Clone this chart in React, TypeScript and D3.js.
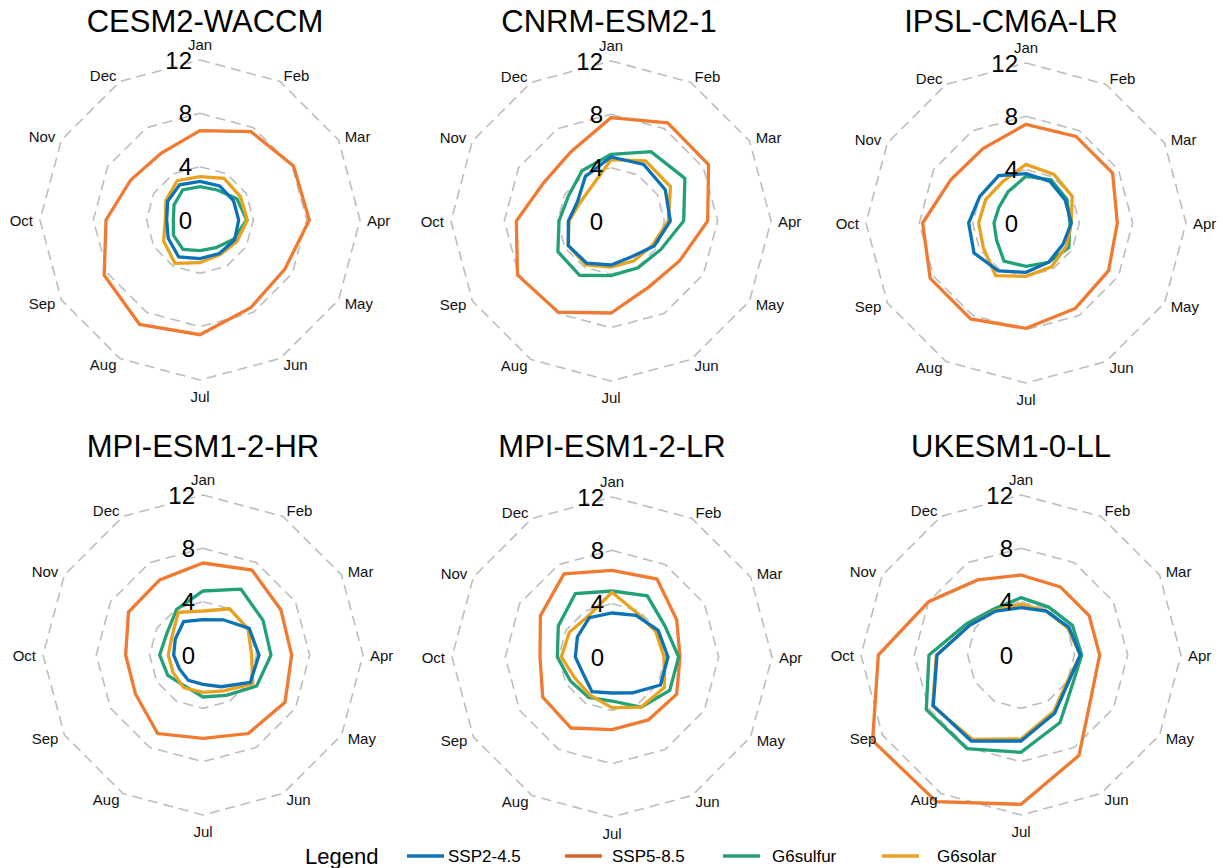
import React from "react";
import * as d3 from "d3";

const months = ["Jan", "Feb", "Mar", "Apr", "May", "Jun", "Jul", "Aug", "Sep", "Oct", "Nov", "Dec"];
const models = ["CESM2-WACCM", "CNRM-ESM2-1", "IPSL-CM6A-LR", "MPI-ESM1-2-HR", "MPI-ESM1-2-LR", "UKESM1-0-LL"];
const seriesNames = ["SSP2-4.5", "SSP5-8.5", "G6sulfur", "G6solar"];
const gridLevels = [0, 4, 8, 12];

// values per model (rows) and month (columns)
const ssp245 = [
  [2.9, 2.95, 2.9, 2.9, 3.0, 2.9, 2.9, 3.2, 2.75, 2.5, 2.8, 3.05],
  [4.8, 4.9, 4.7, 4.45, 3.75, 3.1, 3.3, 3.65, 3.7, 3.2, 2.9, 3.85],
  [3.7, 3.6, 3.4, 3.4, 3.2, 3.4, 3.7, 4.15, 4.5, 4.3, 4.0, 4.1],
  [2.65, 3.05, 4.0, 4.2, 4.1, 2.75, 2.2, 2.2, 2.05, 2.2, 2.4, 2.9],
  [3.3, 3.6, 4.0, 4.2, 4.2, 3.1, 2.7, 3.0, 2.5, 2.75, 3.0, 3.4],
  [3.55, 3.8, 4.15, 4.45, 4.1, 5.05, 6.45, 7.45, 7.6, 6.3, 4.45, 3.8],
];
const ssp585 = [
  [6.7, 7.65, 8.1, 8.2, 7.35, 7.6, 8.6, 9.05, 8.3, 7.05, 6.0, 5.8],
  [7.75, 8.5, 8.45, 7.25, 5.95, 5.7, 6.9, 7.9, 8.1, 7.1, 5.8, 6.0],
  [7.4, 7.5, 7.5, 6.85, 7.15, 7.4, 7.9, 8.3, 8.3, 7.75, 6.5, 6.45],
  [6.9, 7.35, 6.75, 6.65, 7.1, 6.8, 6.25, 6.8, 5.85, 5.8, 6.45, 6.5],
  [6.5, 6.75, 5.6, 5.1, 5.6, 5.45, 5.45, 6.15, 6.0, 5.4, 6.2, 7.2],
  [6.0, 5.9, 5.9, 5.9, 6.1, 8.7, 11.2, 12.7, 12.85, 10.7, 8.0, 6.5],
];
const g6sulfur = [
  [2.5, 2.6, 3.2, 3.5, 2.9, 2.4, 2.3, 2.55, 2.3, 2.0, 2.25, 2.6],
  [5.0, 6.0, 6.4, 5.45, 4.3, 4.05, 4.1, 4.7, 4.6, 3.9, 3.7, 4.35],
  [3.5, 3.75, 3.55, 3.3, 3.7, 3.4, 3.25, 3.3, 2.55, 2.4, 2.35, 2.7],
  [4.8, 5.7, 5.2, 5.1, 4.65, 3.5, 3.15, 2.7, 3.05, 3.25, 3.15, 3.95],
  [4.95, 5.3, 4.6, 5.0, 5.0, 4.35, 3.3, 3.5, 3.6, 4.1, 4.65, 5.5],
  [4.3, 4.15, 4.45, 4.55, 4.45, 5.85, 7.3, 8.1, 8.2, 6.9, 4.7, 4.0],
];
const g6solar = [
  [3.25, 3.6, 3.5, 3.55, 3.2, 3.0, 3.2, 3.75, 3.15, 2.6, 2.95, 3.4],
  [4.6, 5.2, 5.15, 4.3, 3.6, 3.45, 3.45, 3.8, 3.7, 3.15, 2.7, 2.95],
  [4.4, 4.2, 4.0, 3.4, 3.5, 3.8, 4.0, 4.55, 3.7, 3.55, 3.5, 3.55],
  [3.3, 4.0, 3.9, 3.65, 4.3, 3.1, 2.8, 2.85, 2.6, 2.6, 2.7, 3.7],
  [4.85, 3.8, 3.8, 3.9, 4.55, 4.35, 3.8, 3.3, 3.2, 3.8, 3.7, 3.55],
  [3.8, 3.8, 4.05, 4.45, 4.0, 4.9, 6.3, 7.3, 7.65, 6.35, 4.45, 3.85],
];

const seriesData = [ssp245, ssp585, g6sulfur, g6solar];
const lineColors = ["#0b72b5", "#ef7a30", "#22a077", "#e7a21f"];
const keyColors = ["#1672b6", "#d5652a", "#27a078", "#e6a228"];
const drawOrder = [1, 2, 3, 0];

const W = 1223;
const H = 868;
const R = 160;
const panelCenters: [number, number][] = [
  [200, 220], [611, 221], [1026, 223],
  [203, 655], [612, 657], [1021, 655],
];
const titleX = [205, 609, 1011, 203, 612, 1011];
const titleY = [32, 32, 32, 457, 457, 457];
const FONT = "'Liberation Sans', Arial, sans-serif";

const rScale = d3.scaleLinear().domain([0, 12]).range([0, R]);
const angle = d3.scaleLinear().domain([0, 12]).range([0, 2 * Math.PI]);

function Panel({ idx }: { idx: number }) {
  const [cx, cy] = panelCenters[idx];
  const radial = d3
    .lineRadial<number>()
    .angle((_, i) => angle(i))
    .radius((d) => rScale(d))
    .curve(d3.curveLinearClosed);
  return (
    <g>
      <text x={titleX[idx]} y={titleY[idx]} textAnchor="middle" fontSize={31} fontFamily={FONT} fill="#000">
        {models[idx]}
      </text>
      <g transform={`translate(${cx},${cy})`}>
        {gridLevels.filter((l) => l > 0).map((l) => (
          <path
            key={l}
            d={radial(months.map(() => l)) || ""}
            fill="none"
            stroke="#bdbdbd"
            strokeWidth={1.6}
            strokeDasharray="10,6"
          />
        ))}
        {drawOrder.map((s) => (
          <path
            key={s}
            d={radial(seriesData[s][idx]) || ""}
            fill="none"
            stroke={lineColors[s]}
            strokeWidth={3.3}
            strokeLinejoin="miter"
          />
        ))}
        {gridLevels.map((l) => (
          <text
            key={l}
            x={-8}
            y={-rScale(l)}
            textAnchor="end"
            dominantBaseline="central"
            fontSize={24}
            fontFamily={FONT}
            fill="#000"
          >
            {l}
          </text>
        ))}
        {months.map((m, i) => {
          const a = angle(i);
          const s = Math.sin(a);
          const c = Math.cos(a);
          const vertical = Math.abs(s) < 1e-6;
          const rr = vertical ? 176 : 167;
          const x = rr * s;
          const y = -rr * c;
          const anchor = vertical ? "middle" : s > 0 ? "start" : "end";
          return (
            <text
              key={m}
              x={x}
              y={y}
              textAnchor={anchor}
              dominantBaseline="central"
              fontSize={15}
              fontFamily={FONT}
              fill="#111"
            >
              {m}
            </text>
          );
        })}
      </g>
    </g>
  );
}

const legendKeyX = [407, 565, 723, 882];
const legendTextX = [448, 612, 772, 937];

export default function App() {
  return (
    <svg
      width={W}
      height={H}
      viewBox={`0 0 ${W} ${H}`}
      style={{ position: "absolute", left: 0, top: 0, background: "#fff", display: "block" }}
    >
      <rect x={0} y={0} width={W} height={H} fill="#fff" />
      {models.map((_, i) => (
        <Panel key={i} idx={i} />
      ))}
      <g>
        <text x={305} y={856} dominantBaseline="central" fontSize={22} fontFamily={FONT} fill="#000">
          Legend
        </text>
        {seriesNames.map((n, i) => (
          <g key={n}>
            <line x1={legendKeyX[i]} x2={legendKeyX[i] + 37} y1={856} y2={856} stroke={keyColors[i]} strokeWidth={3.5} />
            <text x={legendTextX[i]} y={856} dominantBaseline="central" fontSize={17} fontFamily={FONT} fill="#000">
              {n}
            </text>
          </g>
        ))}
      </g>
    </svg>
  );
}
